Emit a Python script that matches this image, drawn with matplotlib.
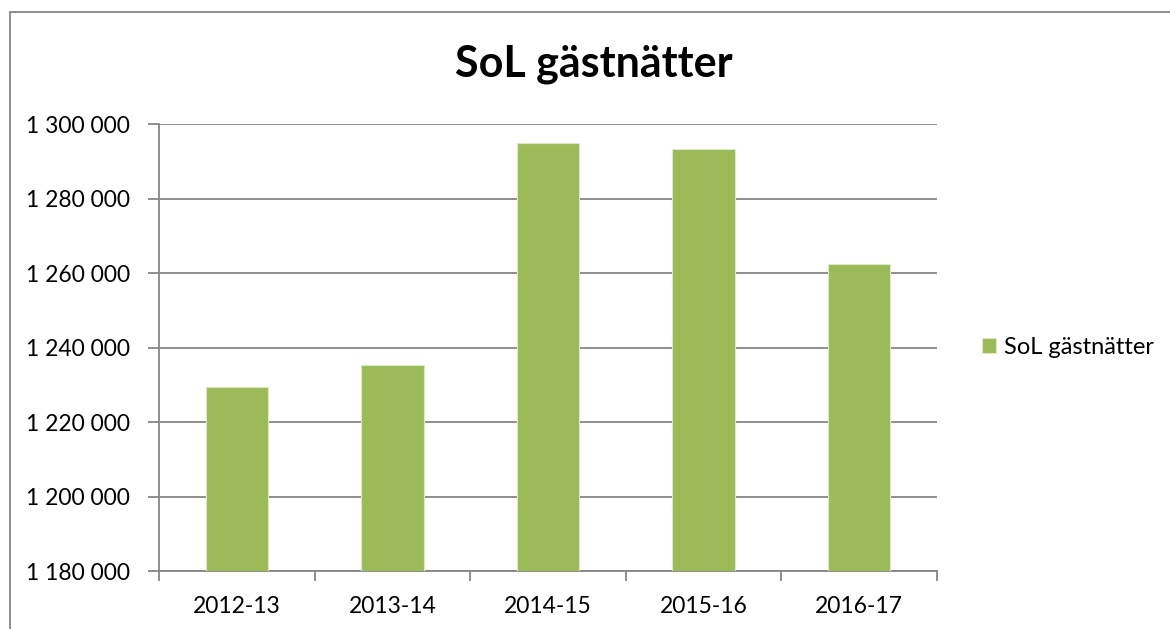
import matplotlib.pyplot as plt
from matplotlib.patches import Rectangle
from matplotlib.ticker import FuncFormatter

plt.rcParams['font.family'] = ['Lato', 'DejaVu Sans']

# data
perioder = ['2012-13', '2013-14', '2014-15', '2015-16', '2016-17']
gastnatter = [1229300, 1235200, 1294900, 1293400, 1262400]
y_ticks = [1180000, 1200000, 1220000, 1240000, 1260000, 1280000, 1300000]

gron = '#9BBB59'
gra = '#868686'

fig = plt.figure(figsize=(11.7, 6.29), dpi=100)
ax = fig.add_axes([159 / 1170, 1 - 571 / 629, 778 / 1170, 447 / 629])

x = range(len(perioder))
ax.bar(x, gastnatter, width=0.4, color=gron, edgecolor='#DDE8C4', linewidth=0.8,
       label='SoL gästnätter', zorder=3)

ax.set_xlim(-0.5, len(perioder) - 0.5)
ax.set_ylim(y_ticks[0], y_ticks[-1])
ax.set_yticks(y_ticks)
ax.yaxis.set_major_formatter(FuncFormatter(lambda v, p: f'{int(v):,}'.replace(',', ' ')))
ax.grid(axis='y', color=gra, linewidth=1.3, zorder=0)

# x ticks at category boundaries, labels in the middle
ax.set_xticks([i - 0.5 for i in range(len(perioder) + 1)])
ax.set_xticklabels([])
ax.set_xticks(list(x), minor=True)
ax.set_xticklabels(perioder, minor=True)
ax.tick_params(axis='x', which='minor', length=0, pad=18, labelsize=16.5)
ax.tick_params(axis='x', which='major', length=7, width=1.3, color=gra)
ax.tick_params(axis='y', length=8, width=1.3, color=gra, labelsize=16.5, pad=13)

for s in ['top', 'right']:
    ax.spines[s].set_visible(False)
for s in ['left', 'bottom']:
    ax.spines[s].set_color(gra)
    ax.spines[s].set_linewidth(1.3)

fig.text(594 / 1170, 1 - 64 / 629, 'SoL gästnätter', ha='center', va='center',
         fontsize=31, fontweight='bold')

ax.legend(loc='center left', bbox_to_anchor=(1.03, 0.5), frameon=False,
          fontsize=17, handlelength=0.6, handleheight=0.6, handletextpad=0.35)

# chart border (right and bottom edges fall outside the image)
fig.patches.append(Rectangle((10 / 1170, -0.05), 1.1, 1.05 - 12 / 629,
                             transform=fig.transFigure, fill=False,
                             edgecolor=gra, linewidth=1.3))

fig.savefig('out.png', dpi=100)
